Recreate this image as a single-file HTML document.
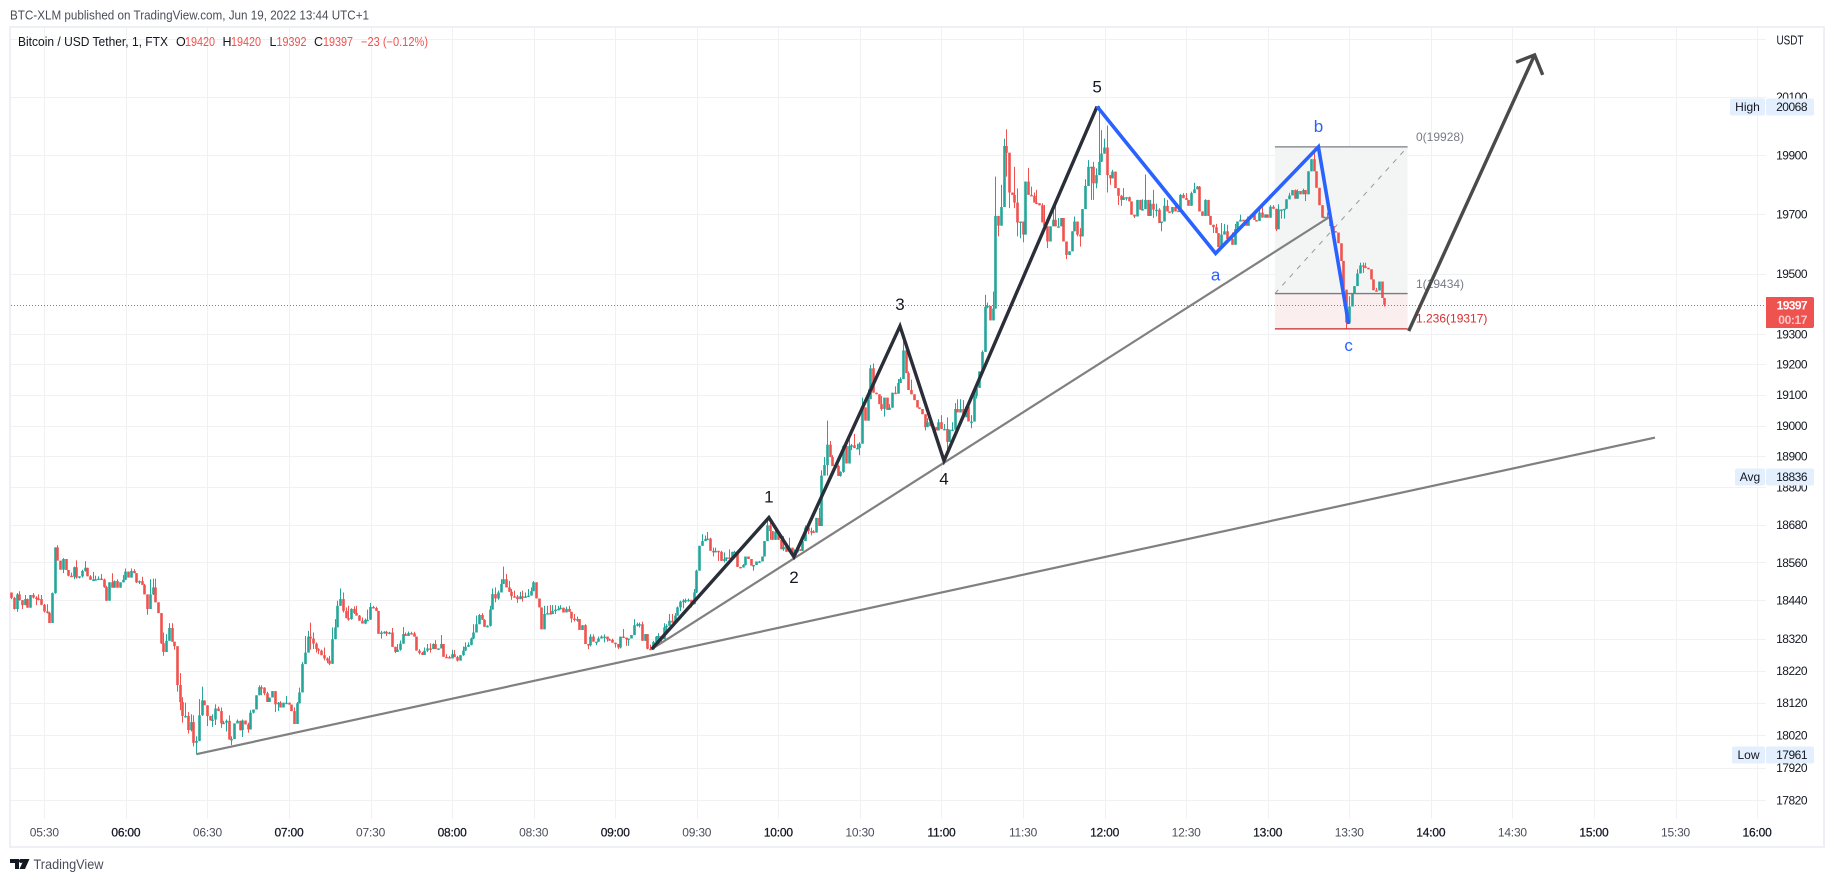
<!DOCTYPE html>
<html lang="en">
<head>
<meta charset="utf-8">
<title>BTC/USDT 1-minute chart</title>
<style>
html,body{margin:0;padding:0;background:#fff;width:1834px;height:882px;overflow:hidden}
svg{display:block;font-family:"Liberation Sans",sans-serif}
</style>
</head>
<body>
<svg id="chart" xmlns="http://www.w3.org/2000/svg" width="1834" height="882" viewBox="0 0 1834 882">
  <rect width="1834" height="882" fill="#ffffff"/>
  <text x="10" y="19.5" font-size="13" fill="#4a4e59" textLength="359" lengthAdjust="spacingAndGlyphs">BTC-XLM published on TradingView.com, Jun 19, 2022 13:44 UTC+1</text>
  <g id="grid"></g>
  <rect x="10" y="27" width="1814" height="820" fill="none" stroke="#eef0f6" stroke-width="2"/>
  <g id="fib-fills"></g>
  <g id="candles"></g>
  <g id="drawings"></g>
  <g font-size="12.5">
    <text x="18" y="46" fill="#131722" textLength="150" lengthAdjust="spacingAndGlyphs">Bitcoin / USD Tether, 1, FTX</text>
    <text x="176" y="46" fill="#131722">O</text>
    <text x="185" y="46" fill="#ef5350" textLength="30" lengthAdjust="spacingAndGlyphs">19420</text>
    <text x="222.5" y="46" fill="#131722">H</text>
    <text x="231" y="46" fill="#ef5350" textLength="30" lengthAdjust="spacingAndGlyphs">19420</text>
    <text x="269.5" y="46" fill="#131722">L</text>
    <text x="276.5" y="46" fill="#ef5350" textLength="30" lengthAdjust="spacingAndGlyphs">19392</text>
    <text x="314" y="46" fill="#131722">C</text>
    <text x="323" y="46" fill="#ef5350" textLength="30" lengthAdjust="spacingAndGlyphs">19397</text>
    <text x="361" y="46" fill="#ef5350" textLength="67" lengthAdjust="spacingAndGlyphs">−23 (−0.12%)</text>
  </g>
  <g id="axis-labels"></g>
  <text x="1776.5" y="44.5" font-size="13" fill="#131722" textLength="27" lengthAdjust="spacingAndGlyphs">USDT</text>
  <g id="badges"></g>
  <g>
    <path d="M10 859h9v10h-4v-6h-5zM21.5 859h8l-4.5 10h-5.5l3.2-7a2 2 0 1 1-1.2-3z" fill="#131722"/>
    <text x="33.5" y="869" font-size="14" fill="#4a4e59" textLength="70" lengthAdjust="spacingAndGlyphs">TradingView</text>
  </g>
</svg>
<script>
// Candle data: one value per minute, first bar at 05:18
const firstOpen = 18465;
const closes = [
18448,18413,18459,18441,18425,18444,18417,18457,18449,18446,
18444,18426,18405,18401,18369,18463,18608,18566,18537,18571,
18536,18518,18515,18545,18512,18516,18533,18543,18516,18505,
18506,18507,18509,18506,18482,18439,18497,18480,18501,18480,
18497,18505,18531,18512,18533,18526,18497,18501,18489,18459,
18413,18459,18481,18434,18400,18305,18278,18313,18353,18310,
18296,18175,18122,18079,18079,18035,18060,17996,18002,18081,
18127,18112,18079,18065,18068,18102,18094,18056,18058,18064,
18006,18008,18056,18064,18035,18065,18053,18037,18089,18099,
18143,18168,18167,18149,18122,18136,18156,18115,18120,18105,
18120,18120,18114,18094,18054,18118,18152,18240,18276,18326,
18320,18304,18287,18282,18268,18258,18251,18241,18318,18355,
18423,18444,18407,18384,18381,18413,18400,18392,18376,18367,
18379,18379,18419,18416,18407,18335,18339,18341,18335,18339,
18294,18278,18285,18304,18334,18328,18337,18336,18326,18282,
18275,18269,18282,18289,18287,18303,18287,18289,18303,18263,
18262,18258,18271,18262,18251,18268,18282,18294,18300,18320,
18339,18365,18394,18379,18357,18360,18411,18460,18446,18465,
18492,18507,18481,18467,18453,18452,18444,18453,18448,18453,
18455,18469,18497,18446,18418,18349,18397,18400,18397,18407,
18411,18413,18417,18402,18413,18404,18383,18381,18381,18347,
18362,18303,18299,18326,18310,18310,18320,18326,18326,18318,
18316,18307,18303,18292,18326,18323,18320,18320,18331,18362,
18365,18365,18313,18334,18288,18286,18309,18326,18328,18318,
18355,18360,18376,18370,18392,18418,18436,18439,18441,18442,
18428,18465,18534,18613,18628,18634,18636,18597,18592,18597,
18594,18565,18571,18576,18573,18594,18594,18546,18544,18552,
18579,18571,18550,18552,18563,18563,18579,18628,18678,18660,
18632,18658,18632,18602,18610,18594,18607,18586,18592,18602,
18597,18628,18671,18660,18659,18655,18702,18676,18838,18872,
18938,18898,18869,18869,18837,18850,18934,18877,18934,18936,
18927,18927,18941,19059,19016,19086,19187,19107,19102,19070,
19054,19091,19051,19058,19107,19104,19139,19152,19246,19171,
19116,19102,19083,19059,19054,19037,18995,19011,18998,18995,
18984,19011,18989,18989,18947,18987,18987,19054,19043,19054,
19027,19062,19013,19013,19096,19123,19177,19241,19390,19393,
19345,19384,19694,19661,19724,19931,19908,19773,19765,19739,
19672,19675,19631,19810,19765,19762,19739,19737,19730,19672,
19659,19608,19659,19681,19659,19659,19687,19608,19563,19575,
19642,19675,19631,19625,19717,19795,19860,19860,19804,19832,
19877,19905,19926,19832,19821,19844,19788,19762,19748,19757,
19757,19743,19698,19692,19748,19715,19717,19748,19694,19735,
19715,19715,19670,19675,19728,19709,19706,19724,19709,19712,
19765,19754,19748,19728,19771,19784,19793,19709,19694,19748,
19694,19664,19656,19636,19589,19631,19642,19616,19616,19597,
19650,19675,19681,19678,19661,19692,19699,19680,19677,19705,
19688,19699,19688,19725,19718,19649,19716,19716,19718,19750,
19763,19781,19752,19778,19767,19781,19767,19845,19886,19845,
19789,19730,19688,19691,19685,19660,19643,19638,19602,19543,
19447,19338,19391,19436,19459,19501,19528,19524,19520,19515,
19481,19445,19444,19474,19419,19397];
const highs = [
18465,18451,18463,18469,18441,18457,18446,18457,18463,18453,
18459,18457,18429,18428,18404,18465,18608,18615,18566,18574,
18571,18536,18528,18547,18567,18516,18537,18564,18543,18520,
18530,18518,18516,18523,18509,18486,18497,18526,18503,18507,
18497,18520,18541,18531,18541,18539,18526,18503,18515,18492,
18459,18507,18509,18509,18434,18400,18339,18334,18368,18368,
18310,18296,18212,18137,18120,18091,18084,18081,18016,18131,
18170,18127,18112,18079,18084,18115,18108,18105,18064,18068,
18081,18016,18056,18068,18064,18068,18065,18058,18097,18099,
18143,18174,18174,18168,18154,18136,18156,18156,18122,18125,
18120,18141,18120,18114,18105,18122,18167,18247,18328,18344,
18370,18339,18308,18290,18285,18292,18261,18266,18355,18381,
18439,18478,18465,18418,18423,18415,18421,18423,18394,18386,
18383,18411,18432,18423,18420,18407,18344,18343,18344,18341,
18353,18294,18303,18314,18356,18339,18342,18341,18341,18326,
18287,18278,18292,18303,18305,18305,18315,18289,18331,18303,
18271,18266,18285,18284,18266,18268,18295,18308,18308,18323,
18365,18392,18397,18400,18381,18362,18423,18478,18481,18471,
18507,18547,18523,18502,18476,18471,18457,18467,18471,18465,
18476,18481,18501,18497,18446,18418,18423,18423,18425,18425,
18425,18423,18425,18417,18420,18423,18404,18397,18389,18381,
18362,18365,18303,18334,18333,18310,18326,18330,18333,18326,
18320,18320,18307,18303,18326,18350,18323,18320,18331,18381,
18370,18370,18373,18334,18334,18301,18313,18328,18337,18326,
18368,18365,18397,18397,18400,18421,18439,18444,18446,18446,
18441,18476,18537,18613,18650,18646,18657,18639,18607,18607,
18594,18597,18592,18576,18602,18594,18597,18594,18546,18555,
18579,18579,18571,18552,18563,18565,18579,18628,18692,18686,
18660,18663,18658,18644,18644,18613,18639,18607,18602,18602,
18602,18644,18678,18671,18671,18663,18702,18734,18855,18898,
19016,18950,18904,18877,18873,18852,18936,18936,18963,18940,
18973,18941,18946,19091,19059,19118,19198,19203,19107,19102,
19096,19091,19091,19070,19107,19128,19152,19158,19289,19246,
19177,19150,19102,19083,19059,19054,19037,19024,19016,19005,
18995,19021,19034,19005,19027,18987,19011,19073,19086,19086,
19083,19062,19062,19034,19107,19123,19177,19246,19430,19404,
19393,19441,19827,19694,19799,19956,19988,19908,19773,19860,
19787,19675,19675,19810,19856,19793,19773,19782,19737,19737,
19731,19659,19659,19731,19731,19687,19687,19683,19608,19575,
19642,19692,19675,19653,19717,19818,19883,19860,19877,19855,
20068,19985,19956,20001,19821,19850,19844,19788,19765,19788,
19757,19759,19743,19698,19748,19748,19750,19834,19748,19748,
19782,19735,19720,19675,19754,19748,19709,19724,19743,19712,
19768,19771,19771,19748,19776,19806,19795,19795,19709,19750,
19748,19694,19664,19667,19636,19670,19667,19664,19616,19638,
19667,19675,19698,19681,19678,19692,19699,19699,19680,19718,
19725,19699,19699,19730,19730,19718,19733,19716,19718,19750,
19772,19781,19783,19783,19778,19786,19781,19845,19886,19923,
19845,19789,19730,19691,19705,19666,19660,19643,19638,19602,
19543,19447,19425,19436,19459,19515,19537,19537,19537,19520,
19515,19481,19453,19474,19474,19420];
const lows = [
18444,18411,18404,18439,18413,18425,18417,18417,18446,18425,
18440,18425,18402,18399,18369,18369,18461,18566,18537,18526,
18536,18516,18515,18507,18509,18509,18512,18531,18516,18505,
18504,18504,18505,18505,18480,18438,18439,18480,18480,18480,
18480,18497,18505,18512,18512,18526,18495,18492,18489,18459,
18395,18413,18457,18434,18400,18303,18266,18278,18313,18310,
18285,18154,18097,18058,18074,18025,18031,17985,17962,18001,
18079,18112,18048,18065,18045,18051,18094,18042,18056,18031,
18006,17989,18011,18056,18034,18014,18053,18027,18037,18087,
18099,18143,18143,18143,18122,18122,18136,18091,18094,18105,
18105,18118,18114,18094,18054,18054,18118,18152,18240,18276,
18285,18287,18276,18271,18268,18252,18243,18237,18241,18318,
18355,18423,18402,18384,18376,18379,18397,18392,18376,18367,
18365,18377,18379,18416,18407,18335,18320,18335,18328,18333,
18294,18274,18278,18282,18304,18328,18328,18336,18326,18282,
18270,18269,18269,18278,18276,18287,18287,18285,18289,18263,
18262,18258,18258,18262,18248,18251,18266,18281,18294,18299,
18318,18339,18365,18379,18357,18355,18358,18411,18434,18442,
18465,18492,18481,18467,18442,18452,18432,18444,18436,18448,
18451,18455,18469,18446,18418,18349,18349,18397,18397,18397,
18397,18411,18411,18402,18402,18404,18370,18373,18373,18347,
18347,18303,18287,18295,18310,18299,18310,18320,18308,18310,
18313,18307,18292,18287,18289,18323,18297,18297,18320,18331,
18358,18355,18313,18313,18286,18284,18291,18307,18318,18307,
18318,18344,18360,18370,18370,18392,18407,18415,18432,18436,
18418,18428,18463,18534,18613,18628,18632,18597,18579,18592,
18565,18565,18560,18565,18573,18571,18592,18546,18542,18544,
18550,18571,18550,18534,18552,18560,18563,18579,18628,18632,
18632,18632,18632,18602,18597,18594,18594,18586,18586,18594,
18597,18597,18628,18650,18646,18655,18655,18676,18676,18838,
18838,18898,18869,18869,18837,18835,18847,18877,18877,18920,
18927,18927,18904,18941,19016,19016,19086,19107,19102,19070,
19048,19029,19051,19051,19058,19104,19104,19139,19152,19171,
19116,19102,19083,19059,19054,19037,18984,18995,18998,18995,
18984,18984,18989,18989,18920,18947,18984,18987,19043,19043,
19027,19027,19013,18991,19013,19088,19123,19177,19241,19385,
19345,19345,19384,19625,19661,19724,19827,19720,19765,19720,
19625,19619,19605,19631,19765,19762,19739,19737,19730,19672,
19659,19586,19608,19659,19659,19659,19659,19608,19549,19563,
19575,19642,19625,19591,19625,19717,19795,19748,19748,19787,
19832,19877,19905,19773,19799,19821,19788,19731,19728,19748,
19746,19743,19698,19687,19692,19715,19715,19717,19694,19694,
19687,19692,19670,19642,19675,19709,19706,19701,19709,19709,
19712,19754,19748,19728,19728,19771,19784,19709,19694,19694,
19694,19664,19636,19636,19589,19589,19631,19616,19616,19597,
19597,19650,19675,19678,19661,19661,19692,19680,19677,19677,
19688,19688,19688,19688,19718,19643,19649,19685,19685,19718,
19750,19763,19752,19752,19767,19767,19744,19767,19845,19845,
19789,19730,19688,19688,19685,19660,19643,19638,19602,19543,
19425,19315,19360,19391,19436,19459,19501,19503,19520,19515,
19481,19445,19444,19444,19419,19391];

// Axis tick values and labels
const priceTicks = [20100,19900,19700,19500,19300,19200,19100,19000,18900,18800,18680,18560,18440,18320,18220,18120,18020,17920,17820];
const gridOnlyPriceTicks = [20300];
const timeLabels = ["05:30","06:00","06:30","07:00","07:30","08:00","08:30","09:00","09:30","10:00","10:30","11:00","11:30","12:00","12:30","13:00","13:30","14:00","14:30","15:00","15:30","16:00"];

// Drawing anchors: bar number and price
const impulseBars = [235.4,278.5,287.7,326.7,342.9,399.2];
const impulsePrices = [18287,18703,18578,19326,18886,20066];
const correctionBars = [399.2,442.8,480.6,491.7];
const correctionPrices = [20066,19568,19928,19333];
const longTrendBars = [67.9,604.4];
const longTrendPrices = [17961,18961];
const shortTrendBars = [235.4,484.1];
const shortTrendPrices = [18287,19687];
const forecastBars = [513.8,560.1];
const forecastPrices = [19310,20244];
const arrowHeadBars = [553.3,560.1,563.1];
const arrowHeadPrices = [20219,20244,20175];
const fibBars = [464.6,513.4];
const fibLevels = [19928,19434,19317];
const fibLabels = ["0(19928)","1(19434)","1.236(19317)"];
const lastPrice = 19397;
const lastPriceText = "19397";
const countdownText = "00:17";
const highValue = 20068;
const avgValue = 18836;
const lowValue = 17961;

const NS = "http://www.w3.org/2000/svg";
function xOf(bar){ return 44.3 + 2.719 * (bar - 12); }
function yOf(price){ return 334 - 5844 * Math.log(price / 19300); }
function xOfTimeIndex(k){ return 44.3 + 81.56 * k; }
function make(parent, tag, attrs, text){
  const el = document.createElementNS(NS, tag);
  for (const k in attrs) el.setAttribute(k, attrs[k]);
  if (text !== undefined) el.textContent = text;
  parent.appendChild(el);
  return el;
}
function pts(bars, prices){
  return bars.map(function(b, i){ return xOf(b).toFixed(1) + "," + yOf(prices[i]).toFixed(1); }).join(" ");
}

// Grid and axis labels
const grid = document.getElementById("grid");
const axisLabels = document.getElementById("axis-labels");
priceTicks.concat(gridOnlyPriceTicks).forEach(function(p){
  const y = Math.round(yOf(p)) + 0.5;
  const line = make(grid, "line", {x1: 11, x2: 1766, y1: y, y2: y, stroke: "#f0f1f3", "stroke-width": 1});
  
  
});
timeLabels.forEach(function(t, k){
  const x = Math.round(xOfTimeIndex(k)) + 0.5;
  const line = make(grid, "line", {x1: x, x2: x, y1: 28, y2: 819, stroke: "#f0f1f3", "stroke-width": 1});
  
  
  const isHour = t.slice(3) === "00";
  const label = make(axisLabels, "text", {x: xOfTimeIndex(k), y: 836.5, "text-anchor": "middle", "font-size": 12, "letter-spacing": "-0.2", fill: isHour ? "#131722" : "#4a4e59", "font-weight": "normal", stroke: isHour ? "#131722" : "none", "stroke-width": isHour ? 0.25 : 0}, t);
  
  
});
priceTicks.forEach(function(p){
  const label = make(axisLabels, "text", {x: 1807, y: yOf(p) + 4.3, "text-anchor": "end", "font-size": 12, "letter-spacing": "-0.5", fill: "#131722"}, String(p));
  
  
});

// Fibonacci fills, below the candles
const fibX1 = xOf(fibBars[0]);
const fibX2 = xOf(fibBars[1]);
const fills = document.getElementById("fib-fills");
const fillColors = ["#f3f5f4", "#faeeee"];
fillColors.forEach(function(color, i){
  const rect = make(fills, "rect", {x: fibX1, y: yOf(fibLevels[i]), width: fibX2 - fibX1, height: yOf(fibLevels[i + 1]) - yOf(fibLevels[i]), fill: color});
  
  
});

// Candles
const candles = document.getElementById("candles");
closes.forEach(function(c, i){
  const o = i === 0 ? firstOpen : closes[i - 1];
  const color = c >= o ? "#26a69a" : "#ef5350";
  const x = xOf(i);
  const h = Math.max(highs[i], o, c);
  const l = Math.min(lows[i], o, c);
  const g = make(candles, "g", {fill: color});
  
  
  const wick = make(g, "rect", {x: Math.floor(x), y: yOf(h).toFixed(1), width: 1, height: Math.max(yOf(l) - yOf(h), 1).toFixed(1)});
  
  
  const top = Math.max(o, c);
  const bot = Math.min(o, c);
  const body = make(g, "rect", {x: (Math.floor(x) + 0.5 - 1.3).toFixed(2), y: yOf(top).toFixed(1), width: 2.6, height: Math.max(yOf(bot) - yOf(top), 1.5).toFixed(1)});
  
  
});

// Drawings
const drawings = document.getElementById("drawings");
const lastY = Math.round(yOf(lastPrice)) + 0.5;
const lastLine = make(drawings, "line", {x1: 11, x2: 1766, y1: lastY, y2: lastY, stroke: "#ef5350", "stroke-width": 1, "stroke-dasharray": "1 2"});



const fibColors = ["#787b86", "#787b86", "#c62828"];
fibLevels.forEach(function(p, i){
  const y = yOf(p);
  const line = make(drawings, "line", {x1: fibX1, x2: fibX2, y1: y, y2: y, stroke: fibColors[i], "stroke-width": 1.3});
  
  
  const offsets = [-10, -10, -10.5];
  const label = make(drawings, "text", {x: 1416, y: y + offsets[i] + 4.2, "font-size": 12, fill: i === 2 ? "#d32f2f" : "#787b86"}, fibLabels[i]);
  
  
});
const fibDiag = make(drawings, "line", {x1: fibX1, y1: yOf(fibLevels[1]), x2: fibX2, y2: yOf(fibLevels[0]), stroke: "#9598a1", "stroke-width": 1, "stroke-dasharray": "5 6"});



const longTrend = make(drawings, "polyline", {points: pts(longTrendBars, longTrendPrices), fill: "none", stroke: "#808080", "stroke-width": 2.2});


const shortTrend = make(drawings, "polyline", {points: pts(shortTrendBars, shortTrendPrices), fill: "none", stroke: "#808080", "stroke-width": 2.2});


const impulse = make(drawings, "polyline", {points: pts(impulseBars, impulsePrices), fill: "none", stroke: "#2a2e39", "stroke-width": 3.4, "stroke-linejoin": "miter"});


const correction = make(drawings, "polyline", {points: pts(correctionBars, correctionPrices), fill: "none", stroke: "#2962ff", "stroke-width": 3.6});


const forecast = make(drawings, "polyline", {points: pts(forecastBars, forecastPrices), fill: "none", stroke: "#4a4a4a", "stroke-width": 3.4});


const arrowHead = make(drawings, "polyline", {points: pts(arrowHeadBars, arrowHeadPrices), fill: "none", stroke: "#4a4a4a", "stroke-width": 3.4});



// Wave labels sit just above or below their pivots
const impulseWaveLabels = ["1","2","3","4","5"];
const correctionWaveLabels = ["a","b","c"];
const impulseLabelOffsets = [-15,26,-16,24,-14];
const correctionLabelOffsets = [27,-15,27];
impulseWaveLabels.forEach(function(t, i){
  const x = xOf(impulseBars[i + 1]);
  const y = yOf(impulsePrices[i + 1]) + impulseLabelOffsets[i];
  const label = make(drawings, "text", {x: x, y: y, "text-anchor": "middle", "font-size": 17, fill: "#131722"}, t);
  
  
});
correctionWaveLabels.forEach(function(t, i){
  const x = xOf(correctionBars[i + 1]);
  const y = yOf(correctionPrices[i + 1]) + correctionLabelOffsets[i];
  const label = make(drawings, "text", {x: x, y: y, "text-anchor": "middle", "font-size": 17, fill: "#2962ff"}, t);
  
  
});

// Price scale badges
const badges = document.getElementById("badges");
function badge(name, value, title, left){
  const cy = Math.round(yOf(value)) + 1;
  const tag = make(badges, "rect", {x: left, y: cy - 8.5, width: 1765 - left, height: 17, rx: 2, fill: "#e3effd"});
  
  
  const val = make(badges, "rect", {x: 1766, y: cy - 8.5, width: 48, height: 17, rx: 2, fill: "#e3effd"});
  
  
  const t1 = make(badges, "text", {x: (left + 1765) / 2, y: cy + 4.2, "text-anchor": "middle", "font-size": 12, fill: "#131722"}, title);
  
  
  const t2 = make(badges, "text", {x: 1807, y: cy + 4.2, "text-anchor": "end", "font-size": 12, "letter-spacing": "-0.5", fill: "#131722"}, String(value));
  
  
}
badge("high-badge", highValue, "High", 1730);
badge("avg-badge", avgValue, "Avg", 1735);
badge("low-badge", lowValue, "Low", 1732);

const priceBox = make(badges, "path", {d: "M1766 297h46a2 2 0 0 1 2 2v27a2 2 0 0 1-2 2h-46z", fill: "#ef5350"});


const priceText = make(badges, "text", {x: 1807, y: 309.5, "text-anchor": "end", "font-size": 12, "font-weight": "bold", "letter-spacing": "-0.6", fill: "#ffffff"}, lastPriceText);


const countText = make(badges, "text", {x: 1807, y: 324, "text-anchor": "end", "font-size": 12, "font-weight": "bold", "letter-spacing": "-0.4", fill: "#fbc4c4"}, countdownText);


</script>
</body>
</html>
